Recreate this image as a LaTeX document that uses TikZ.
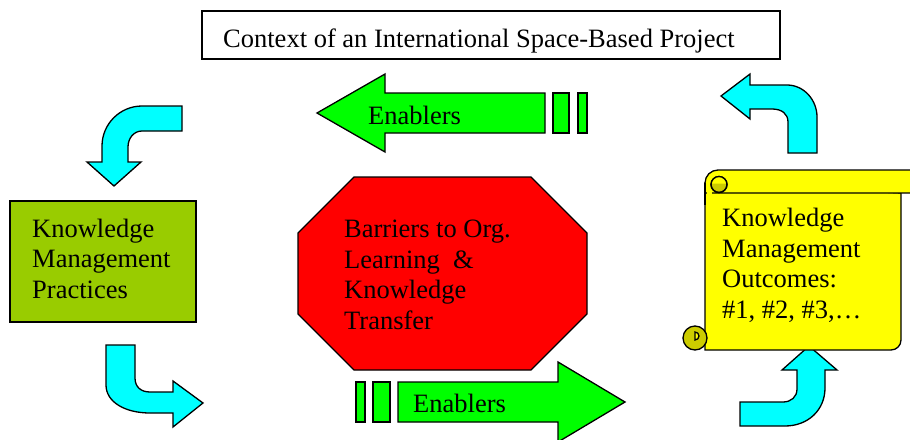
\documentclass[tikz,border=0pt]{standalone}
\usepackage{fontspec}
\setmainfont{Liberation Serif}
\definecolor{cyanfill}{HTML}{00FFFF}
\definecolor{greenfill}{HTML}{00FF00}
\definecolor{redfill}{HTML}{FF0000}
\definecolor{olivefill}{HTML}{99CC00}
\definecolor{scrollfill}{HTML}{FFFF00}
\definecolor{scrollshade}{HTML}{CCCC00}
\tikzset{
  outline/.style={draw=black, line width=1.3pt, line join=miter},
  bent/.style={outline, fill=cyanfill},
  enabler/.style={outline, fill=greenfill},
  label/.style={inner sep=0pt, align=left, font=\fontsize{26.5}{30.5}\selectfont},
}
\begin{document}
\begin{tikzpicture}[x=1pt,y=-1pt]
\useasboundingbox (0,0) rectangle (910,439);
\clip (0,0) rectangle (910,439);

% title frame
\draw[outline, line width=1.2pt] (202,11) rectangle (780,59);
\node[label, anchor=base west] (title) at (223,47) {Context of an International Space-Based Project};

% bent cyan arrows around the cycle
\draw[bent] (182,106) -- (142,106) .. controls (120,106) and (102,124) .. (102,146)
  -- (102,162) -- (87,162) -- (114,186) -- (141,162) -- (128,162) -- (128,147)
  .. controls (128,138) and (134,131) .. (142,131) -- (182,131) -- cycle;
\draw[bent] (788,153) -- (788,122) .. controls (788,114) and (782,109) .. (772,109)
  -- (750,109) -- (750,119) -- (721,96) -- (750,74) -- (750,85) -- (787,85)
  .. controls (804,85) and (817,100) .. (817,117) -- (817,153) -- cycle;
\draw[bent] (106,345) -- (106,385) .. controls (106,402) and (125,413) .. (150,413)
  -- (173,413) -- (173,427) -- (203,403) -- (173,381) -- (173,392) -- (150,392)
  .. controls (141,392) and (135,387) .. (135,378) -- (135,345) -- cycle;
\draw[bent] (740,402) -- (783,402) .. controls (791,402) and (797,397) .. (797,389)
  -- (797,370) -- (782,370) -- (809,346) -- (837,370) -- (825,370) -- (825,388)
  .. controls (825,410) and (808,426) .. (785,426) -- (740,426) -- cycle;

% upper enablers arrow, pointing left
\draw[enabler] (317,113) -- (385,74) -- (385,93) -- (545,93) -- (545,133)
  -- (385,133) -- (385,152) -- cycle;
\draw[enabler] (553,93) rectangle (569,133);
\draw[enabler] (578,93) rectangle (587,133);
\node[label, anchor=base west] (enablersTop) at (368,124) {Enablers};

% lower enablers arrow, pointing right
\draw[enabler] (356,382) rectangle (365,422);
\draw[enabler] (373,382) rectangle (390,422);
\draw[enabler] (398,382) -- (558,382) -- (558,362) -- (625,402) -- (558,442)
  -- (558,422) -- (398,422) -- cycle;
\node[label, anchor=base west] (enablersBottom) at (413,412) {Enablers};

% practices box
\draw[outline, fill=olivefill] (10,201) rectangle (196,322);
\node[label, anchor=base west] (practices) at (32,298) {Knowledge\\Management\\Practices};

% barriers octagon
\draw[outline, fill=redfill] (354,177) -- (531,177) -- (587,233) -- (587,314)
  -- (531,370) -- (354,370) -- (298,314) -- (298,233) -- cycle;
\node[label, anchor=base west] (barriers) at (344,329) {Barriers to Org.\\Learning~ \&\\Knowledge\\Transfer};

% outcomes scroll: sheet, top roll and the two curls
\draw[outline, fill=scrollfill] (705,183) -- (705,350) -- (891,350)
  arc[start angle=90, end angle=0, radius=10] -- (901,193) -- cycle;
\draw[outline, fill=scrollfill] (705,183) arc[start angle=180, end angle=270, radius=13]
  -- (930,170) -- (930,193) -- (705,193) -- cycle;
\fill[scrollfill] (706.5,184) rectangle (712,200);
\draw[outline] (705,183) -- (705,205);
\draw[outline, fill=scrollshade] (719,184.5) circle[radius=8];
\fill[scrollfill] (712,183.5) arc[start angle=180, end angle=360, radius=7] -- cycle;
\draw[outline] (719,184.5) circle[radius=8];
\draw[outline, fill=scrollshade] (695,338) circle[radius=12];
\draw[outline, fill=scrollfill] (695,332) arc[start angle=270, end angle=450, radius=4] -- cycle;
\node[label, anchor=base west] (outcomes) at (722,318) {Knowledge\\Management\\Outcomes:\\\#1, \#2, \#3,…};
\end{tikzpicture}
\end{document}
